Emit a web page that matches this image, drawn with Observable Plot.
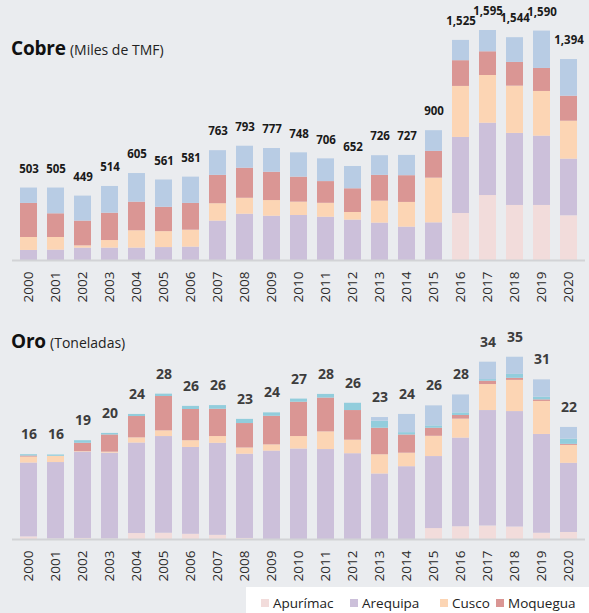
<!DOCTYPE html>
<html><head><meta charset="utf-8">
<script src="https://cdn.jsdelivr.net/npm/d3@7"></script>
<script src="https://cdn.jsdelivr.net/npm/@observablehq/plot@0.6"></script>
<style>
body{margin:0;background:#eaecef;font-family:"Open Sans",sans-serif;}
#wrap{position:relative;width:589px;height:613px;overflow:hidden;background:#eaecef;}
.panel{position:absolute;left:0;}
.title{position:absolute;left:11px;color:#111;white-space:nowrap;}
.title b{font-size:19px;font-weight:700;letter-spacing:-0.2px}
.title span{font-size:14px;color:#222}
#legend{position:absolute;left:246px;top:587px;width:360px;height:30px;background:#fff;font-size:13.5px;color:#222;}
#legend .it{position:absolute;top:7px;white-space:nowrap;}
#legend .sw{display:inline-block;width:8px;height:8px;margin-right:4px;vertical-align:1px;}
</style></head>
<body>
<div id="wrap">
  <div class="panel" id="cobre" style="top:0"></div>
  <div class="panel" id="oro" style="top:300px"></div>
  <div class="title" style="top:35px"><b>Cobre</b> <span>(Miles de TMF)</span></div>
  <div class="title" style="top:328px"><b>Oro</b> <span>(Toneladas)</span></div>
  <div id="legend"></div>
</div>
<script>
const years = ["2000","2001","2002","2003","2004","2005","2006","2007","2008","2009","2010","2011","2012","2013","2014","2015","2016","2017","2018","2019","2020"];
const regions = ["Apurímac","Arequipa","Cusco","Moquegua","Puno","Tacna"];
const colors = ["#f2dcdb","#ccc0da","#fcd5b4","#da9694","#92cddc","#b8cce4"];
const legendRegions = ["Apurímac","Arequipa","Cusco","Moquegua"];

// Cobre (miles de TMF)
const cobreApurimac = [0,0,0,0,0,0,0,0,0,0,0,0,0,0,0,0,327,452,383,383,311];
const cobreArequipa = [70,72,86,86,86,90,93,274,322,308,313,301,281,260,232,262,529,503,501,482,394];
const cobreCusco    = [90,88,16,53,121,111,118,121,111,109,93,97,53,153,172,311,355,332,329,311,264];
const cobreMoquegua = [237,165,172,190,199,169,186,197,209,197,174,151,165,179,186,186,179,165,165,160,174];
const cobrePuno     = [0,0,0,0,0,0,0,0,0,0,0,0,0,0,0,0,0,0,0,0,0];
const cobreTacna    = [107,179,174,186,199,190,183,172,153,165,169,158,155,137,141,144,141,148,172,260,255];
const cobreTotals   = [503,505,449,514,605,561,581,763,793,777,748,706,652,726,727,900,1525,1595,1544,1590,1394];

// Oro (toneladas)
const oroApurimac = [0.5,0.1,0.2,0.1,1.15,1.2,1.0,0.8,0.2,0,0,0,0,0,0,2.1,2.45,2.6,2.4,1.2,1.35];
const oroArequipa = [14.2,14.7,16.6,16.5,17.4,18.6,16.7,17.7,16.2,17.0,17.4,17.3,16.5,12.6,14.0,13.85,17.05,22.2,22.2,19.0,13.3];
const oroCusco    = [1.15,1.2,0.1,0.2,1.0,1.1,1.3,1.3,1.2,1.2,2.4,3.4,2.6,3.7,2.6,3.9,3.65,5.0,6.0,6.35,3.45];
const oroMoquegua = [0.2,0,1.6,3.3,4.1,6.6,6.0,5.25,4.7,5.5,6.6,6.5,5.7,5.1,3.5,1.55,0.7,0.65,0.4,0.3,0.2];
const oroPuno     = [0.25,0.25,0.5,0.3,0.4,0.45,0.6,0.7,0.8,0.65,0.6,0.7,1.4,1.35,0.45,0.45,0.5,0.3,0.75,0.5,1.0];
const oroTacna    = [0,0,0,0,0,0,0,0,0,0,0,0,0,0.7,3.5,3.85,3.45,3.35,3.3,3.35,2.25];
const oroTotals   = [16,16,19,20,24,28,26,26,23,24,27,28,26,23,24,26,28,34,35,31,22];

function longData(series){
  const out = [];
  regions.forEach((r,k)=>{
    series[k].forEach((v,i)=>out.push({year:years[i], region:r, value:v}));
  });
  return out;
}
const fmt = d3.format(",");

function panel(series, totals, o){
  const data = longData(series);
  const sums = years.map((y,i)=>d3.sum(series, s=>s[i]));
  return Plot.plot({
    width:589, height:o.height,
    marginTop:o.mt, marginBottom:o.mb, marginLeft:12, marginRight:4,
    style:{background:"transparent", fontFamily:"'Open Sans',sans-serif", fontSize:"13px"},
    x:{domain:years, range:[6,590], padding:0.38},
    y:{domain:[0,o.max], axis:null},
    color:{domain:regions, range:colors},
    marks:[
      Plot.barY(data,{x:"year", y:"value", fill:"region"}),
      Plot.ruleY([0],{stroke:"#d2d3d6", strokeWidth:2}),
      Plot.axisX({tickSize:0, tickPadding:11, tickRotate:-90, fontSize:13.5, color:"#2a2a2a", label:null}),
      Plot.text(years,{x:d=>d, y:(d,i)=>sums[i], text:(d,i)=>fmt(totals[i]), dy:o.dy, fontWeight:700, fontSize:o.fs, fill:o.lc})
    ]
  });
}

document.getElementById("cobre").appendChild(panel(
  [cobreApurimac,cobreArequipa,cobreCusco,cobreMoquegua,cobrePuno,cobreTacna], cobreTotals,
  {height:305, mt:30, mb:45, max:1600, dy:-19, fs:11.5, lc:"#1a1a1a"}));
document.getElementById("oro").appendChild(panel(
  [oroApurimac,oroArequipa,oroCusco,oroMoquegua,oroPuno,oroTacna], oroTotals,
  {height:290, mt:57, mb:51, max:35, dy:-20, fs:14, lc:"#3d3d3d"}));

const lg = document.getElementById("legend");
const lx = [15,104,194,250];
legendRegions.forEach((r,i)=>{
  const d = document.createElement("div");
  d.className = "it";
  d.style.left = lx[i]+"px";
  d.innerHTML = `<span class="sw" style="background:${colors[regions.indexOf(r)]}"></span>${r}`;
  lg.appendChild(d);
});
</script>
</body></html>
